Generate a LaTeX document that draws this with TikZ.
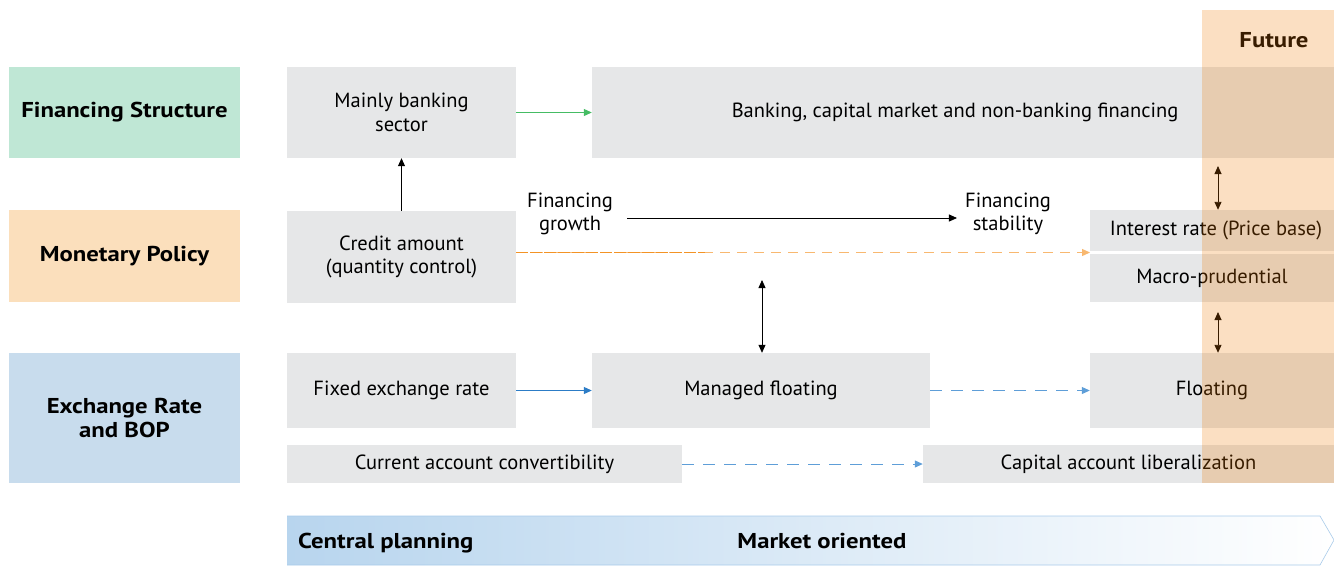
\documentclass[tikz,border=0pt]{standalone}
\usepackage{fontspec}
\setmainfont{PT Sans}[BoldFeatures={FakeStretch=1.15}]
\usetikzlibrary{arrows.meta}
\definecolor{fsgreen}{HTML}{BFE7D5}
\definecolor{mporange}{HTML}{FBDFBC}
\definecolor{erblue}{HTML}{C8DCED}
\definecolor{boxgray}{HTML}{E6E7E8}
\definecolor{arrgreen}{HTML}{45BC64}
\definecolor{arrblue}{HTML}{2C7CC6}
\definecolor{arrbluelt}{HTML}{5E9ED8}
\definecolor{arrorange}{HTML}{F39325}
\definecolor{arrorangelt}{HTML}{F8B870}
\definecolor{futcol}{RGB}{238,121,0}
\definecolor{barblue}{HTML}{B8D5EE}
\definecolor{barline}{HTML}{A9CBEA}
\newcommand{\regfont}{\fontsize{20.5}{23.5}\selectfont}
\newcommand{\boldfont}{\fontsize{21.5}{24}\selectfont\bfseries}
\tikzset{
  cat/.style={fill=#1, inner sep=0pt, font=\boldfont, align=center},
  gbox/.style={fill=boxgray, inner sep=0pt, font=\regfont, align=center},
  lbl/.style={inner xsep=10pt, inner ysep=0pt, font=\regfont, align=center},
  tip/.style={-{Triangle[length=8pt,width=7pt]}},
  dtip/.style={{Triangle[length=8pt,width=7pt]}-{Triangle[length=8pt,width=7pt]}},
}
\begin{document}
\begin{tikzpicture}[x=1pt,y=-1pt]
\useasboundingbox (0,0) rectangle (1334,566);
% category labels
\node[cat=fsgreen, minimum width=231pt, minimum height=91pt] (fs) at (124.5,112.5) {Financing Structure};
\node[cat=mporange, minimum width=231pt, minimum height=92pt] (mp) at (124.5,256) {Monetary Policy};
\node[cat=erblue, minimum width=231pt, minimum height=130pt] (er) at (124.5,418) {Exchange Rate\\and BOP};
% gray boxes
\node[gbox, minimum width=229pt, minimum height=91pt] (mb) at (401.5,112.5) {Mainly banking\\sector};
\node[gbox, minimum width=742pt, minimum height=91pt] (bc) at (963,112.5) {\hspace*{-16pt}Banking, capital market and non-banking financing};
\node[gbox, minimum width=229pt, minimum height=92pt] (ca) at (401.5,257) {Credit amount\\(quantity control)};
\node[gbox, minimum width=244pt, minimum height=41pt] (ir) at (1212,230.5) {\hspace*{8pt}Interest rate (Price base)};
\node[gbox, minimum width=244pt, minimum height=48pt] (mpr) at (1212,278) {Macro-prudential};
\node[gbox, minimum width=229pt, minimum height=75pt] (fx) at (401.5,390.5) {Fixed exchange rate};
\node[gbox, minimum width=338pt, minimum height=75pt] (mf) at (761,390.5) {Managed floating};
\node[gbox, minimum width=244pt, minimum height=75pt] (fl) at (1212,390.5) {Floating};
\node[gbox, minimum width=395pt, minimum height=38pt] (cur) at (484.5,464) {Current account convertibility};
\node[gbox, minimum width=411pt, minimum height=38pt] (cap) at (1128.5,464) {Capital account liberalization};
% free labels
\node[lbl] (fg) at (570,214) {Financing\\growth};
\node[lbl] (fst) at (1008,214) {Financing\\stability};
% connectors
\draw[tip, line width=0.8pt] (ca.north) -- (mb.south);
\draw[tip, arrgreen, line width=1pt] (mb.east) -- (bc.west);
\coordinate (fgy) at (0,218);
\draw[tip, line width=0.8pt] ([xshift=4pt]fg.east |- fgy) -- ([xshift=2pt]fst.west |- fgy);
\coordinate (gapL) at (1090,252.5);
\coordinate (darkend) at (705,252.5);
\draw[arrorangelt, line width=1.2pt, dash pattern=on 10pt off 7pt, tip] (ca.east |- gapL) -- (gapL);
\draw[arrorange, line width=1.2pt, dash pattern=on 12pt off 2pt] (ca.east |- gapL) -- (darkend);
\coordinate (mftop) at (762,280);
\draw[dtip, line width=0.8pt] (mftop) -- (mf.north -| mftop);
\draw[tip, arrblue, line width=1pt] (fx.east) -- (mf.west);
\draw[tip, arrbluelt, line width=1pt, dash pattern=on 12pt off 9pt] (mf.east) -- (fl.west);
\draw[tip, arrbluelt, line width=1pt, dash pattern=on 12pt off 9pt] (cur.east) -- (cap.west);
\coordinate (b1) at (1218,166);
\coordinate (b2) at (1218,312);
\draw[dtip, line width=0.9pt] (b1) -- (ir.north -| b1);
\draw[dtip, line width=0.9pt] (b2) -- (fl.north -| b2);
% future column
\node[font=\boldfont] (fut) at (1274,40) {Future};
\fill[futcol, fill opacity=0.24] (1202,10) rectangle (1334,483);
% bottom bar
\shade[left color=barblue, right color=white] (287,516) -- (1320,516) -- (1334,540) -- (1320,565) -- (287,565) -- cycle;
\draw[barline, line width=0.6pt] (287,516) -- (1320,516) -- (1334,540) -- (1320,565) -- (287,565);
\node[anchor=base west, font=\boldfont, inner sep=0pt] (cp) at (298,548) {Central planning};
\node[anchor=base, font=\boldfont, inner sep=0pt] (mo) at (822,548) {Market oriented};
\end{tikzpicture}
\end{document}
